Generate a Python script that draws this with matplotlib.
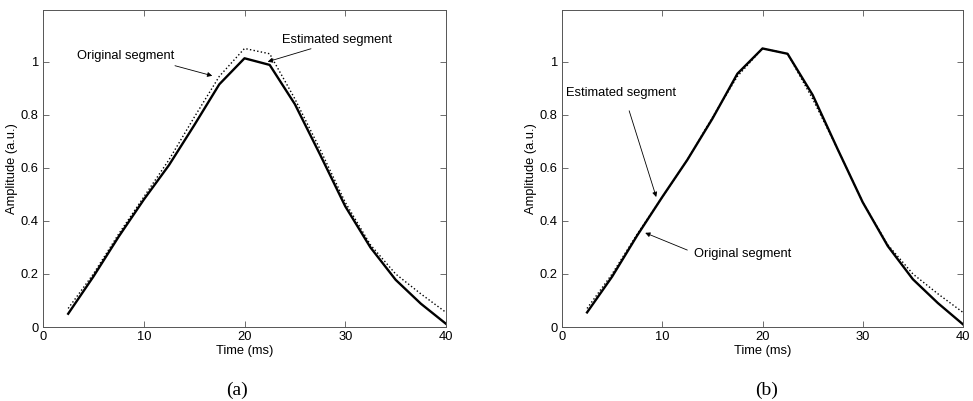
import numpy as np
import matplotlib.pyplot as plt

plt.rcParams['font.family'] = ['Liberation Sans', 'DejaVu Sans']

# time samples (ms)
t = [2.5, 5, 7.5, 10, 12.5, 15, 17.5, 20, 22.5, 25, 27.5, 30, 32.5, 35, 37.5, 40]

# original segment (same in both panels)
original = [0.07, 0.20, 0.35, 0.49, 0.63, 0.79, 0.945, 1.05, 1.03, 0.86, 0.67, 0.47, 0.31, 0.20, 0.125, 0.055]
# estimated segment, panel (a)
est_a = [0.05, 0.19, 0.34, 0.48, 0.61, 0.76, 0.915, 1.013, 0.988, 0.84, 0.65, 0.455, 0.30, 0.178, 0.088, 0.012]
# estimated segment, panel (b)
est_b = [0.055, 0.19, 0.345, 0.49, 0.63, 0.785, 0.955, 1.05, 1.03, 0.875, 0.67, 0.47, 0.305, 0.18, 0.09, 0.01]

xticks = [0, 10, 20, 30, 40]
yticks = [0, 0.2, 0.4, 0.6, 0.8, 1]

fig = plt.figure(figsize=(9.73, 4.01), dpi=100)
ax1 = fig.add_axes([43/973, 1-327/401, 403/973, 317/401])
ax2 = fig.add_axes([562/973, 1-327/401, 401/973, 317/401])

arrow = dict(arrowstyle='-|>', color='black', lw=0.6, mutation_scale=7,
             shrinkA=0, shrinkB=0)
fs = 9.3

for ax, est in [(ax1, est_a), (ax2, est_b)]:
    ax.plot(t, original, color='black', lw=1.0, ls=':')
    ax.plot(t, est, color='black', lw=1.7)
    ax.set_xlim(0, 40)
    ax.set_ylim(0, 1.195)
    ax.set_xticks(xticks)
    ax.set_yticks(yticks)
    ax.set_yticklabels(['0', '0.2', '0.4', '0.6', '0.8', '1'])
    ax.tick_params(direction='in', top=True, right=True, labelsize=fs,
                   length=4, width=0.6, pad=3, color='#555555')
    for s in ax.spines.values():
        s.set_linewidth(0.7)
        s.set_color('#555555')
    ax.set_xlabel('Time (ms)', fontsize=fs, labelpad=1)
    ax.set_ylabel('Amplitude (a.u.)', fontsize=fs, labelpad=2)

ax1.annotate('', xy=(16.8, 0.947), xytext=(13.1, 0.985), arrowprops=arrow)
ax1.text(3.4, 1.02, 'Original segment', fontsize=fs, va='center', ha='left')
ax1.annotate('', xy=(22.3, 1.0), xytext=(26.6, 1.049), arrowprops=arrow)
ax1.text(23.7, 1.083, 'Estimated segment', fontsize=fs, va='center', ha='left')

ax2.annotate('', xy=(9.4, 0.49), xytext=(6.7, 0.815), arrowprops=arrow)
ax2.text(0.4, 0.883, 'Estimated segment', fontsize=fs, va='center', ha='left')
ax2.annotate('', xy=(8.3, 0.355), xytext=(12.5, 0.29), arrowprops=arrow)
ax2.text(13.2, 0.275, 'Original segment', fontsize=fs, va='center', ha='left')

fig.text(237/973, 1-390/401, '(a)', family='Liberation Serif', fontsize=14,
         ha='center', va='center')
fig.text(767/973, 1-390/401, '(b)', family='Liberation Serif', fontsize=14,
         ha='center', va='center')

fig.savefig('out.png', dpi=100)
